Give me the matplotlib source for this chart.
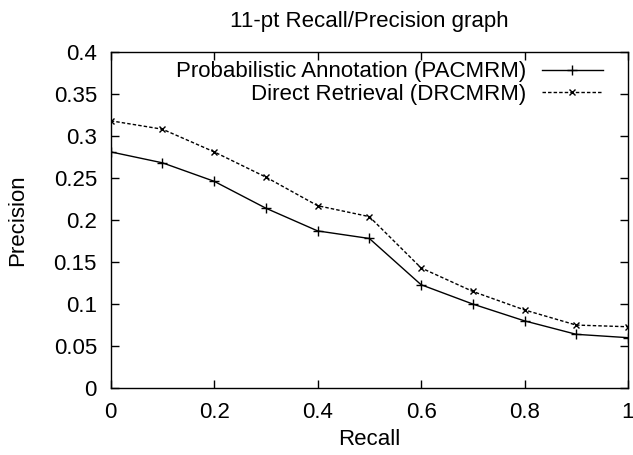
import numpy as np
from matplotlib import pyplot as plt
from matplotlib.ticker import FuncFormatter

plt.rcParams['font.family'] = ['Liberation Sans', 'DejaVu Sans']

recall = [0.0, 0.1, 0.2, 0.3, 0.4, 0.5, 0.6, 0.7, 0.8, 0.9, 1.0]
pacmrm = [0.281, 0.268, 0.246, 0.214, 0.187, 0.178, 0.123, 0.100, 0.080, 0.064, 0.060]
drcmrm = [0.318, 0.308, 0.281, 0.251, 0.217, 0.204, 0.143, 0.115, 0.093, 0.075, 0.073]

x_ticks = [0, 0.2, 0.4, 0.6, 0.8, 1]
y_ticks = [0, 0.05, 0.1, 0.15, 0.2, 0.25, 0.3, 0.35, 0.4]

fs = 16

fig = plt.figure(figsize=(6.33, 4.55), dpi=100)
ax = fig.add_axes([0.175, 0.147, 0.817, 0.739])

ax.plot(recall, pacmrm, color="black", linewidth=1, marker="+", markersize=7,
        markeredgewidth=1, label="Probabilistic Annotation (PACMRM)")
ax.plot(recall, drcmrm, color="black", linewidth=1, linestyle=(0, (2.5, 1.5)), marker="x",
        markersize=5, markeredgewidth=1, label="Direct Retrieval (DRCMRM)")

ax.set_xlim(0, 1)
ax.set_ylim(0, 0.4)
ax.set_xticks(x_ticks)
ax.set_yticks(y_ticks)
fmt = FuncFormatter(lambda v, p: "%g" % v)
ax.xaxis.set_major_formatter(fmt)
ax.yaxis.set_major_formatter(fmt)
ax.tick_params(direction="in", length=6, width=1, top=True, right=True, labelsize=fs)
ax.tick_params(axis="x", pad=10)
ax.tick_params(axis="y", pad=10)
for s in ax.spines.values():
    s.set_linewidth(1)

ax.set_xlabel("Recall", fontsize=fs, labelpad=4)
ax.set_ylabel("Precision", fontsize=fs, labelpad=18)
fig.text(0.175 + 0.817 / 2, 1 - 27 / 455, "11-pt Recall/Precision graph", fontsize=fs,
         ha="center", va="baseline")

# markerfirst=False -> texts end up right-justified like gnuplot
leg = ax.legend(loc="upper right", bbox_to_anchor=(0.9516, 0.972), markerfirst=False,
                frameon=False, fontsize=fs, handlelength=2.75, handletextpad=0.68,
                labelspacing=0.06, borderaxespad=0, borderpad=0)

fig.savefig("out.png", dpi=100)
